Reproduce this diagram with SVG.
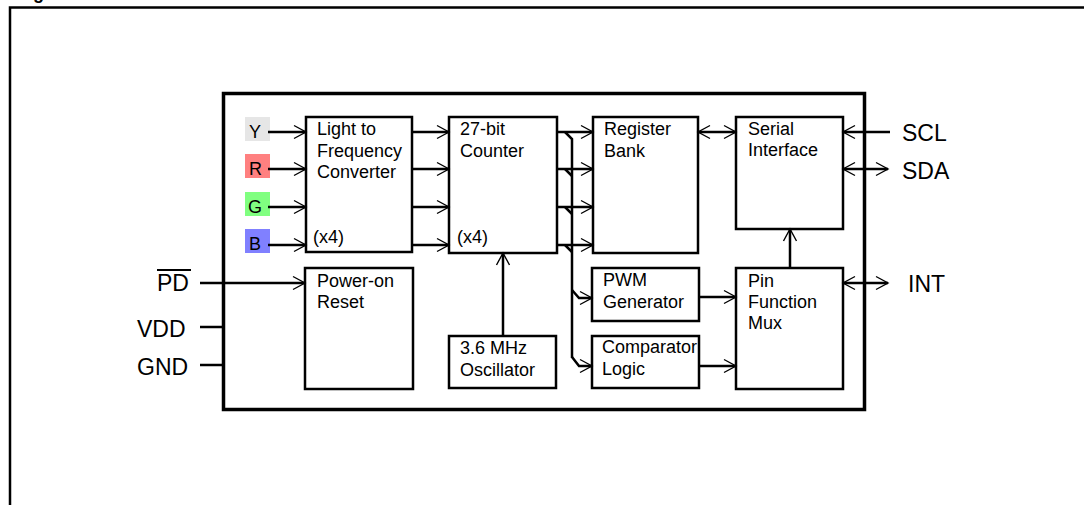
<svg xmlns="http://www.w3.org/2000/svg" width="1084" height="505" viewBox="0 0 1084 505">
<style>
text{font-family:"Liberation Sans",Arial,Helvetica,sans-serif;fill:#000}
.lbl{font-size:18px}
.pin{font-size:23px}
.ttl{font-size:18px;font-weight:bold}
.box{fill:#fff;stroke:#000;stroke-width:2.5}
.ln{fill:none;stroke:#000;stroke-width:2.5}
.ah{marker-end:url(#arr)}
.dh{marker-start:url(#arrs);marker-end:url(#arr)}
</style>
<defs>
<marker id="arr" markerUnits="userSpaceOnUse" markerWidth="16" markerHeight="18" viewBox="-14 -9 16 18" refX="0" refY="0" orient="auto">
<path d="M-12,-6.5 L0,0 L-12,6.5" fill="none" stroke="#000" stroke-width="1.4"/>
</marker>
<marker id="arrs" markerUnits="userSpaceOnUse" markerWidth="16" markerHeight="18" viewBox="-14 -9 16 18" refX="0" refY="0" orient="auto-start-reverse">
<path d="M-12,-6.5 L0,0 L-12,6.5" fill="none" stroke="#000" stroke-width="1.4"/>
</marker>
</defs>
<rect width="1084" height="505" fill="#fff"/>
<g id="title"><text class="ttl" x="17" y="-1">Figure 1.</text></g>
<path id="frame" d="M10,505 L10,7.5 L1084,7.5" fill="none" stroke="#000" stroke-width="2.5"/>
<rect id="chip" x="223.5" y="93.5" width="641" height="316" fill="none" stroke="#000" stroke-width="3.5"/>

<g id="inputs">
<rect x="245" y="117" width="25" height="24" fill="#e6e6e6"/><text class="lbl" x="249" y="138">Y</text>
<rect x="245" y="154" width="25" height="24" fill="#ff8080"/><text class="lbl" x="249" y="175">R</text>
<rect x="245" y="192" width="25" height="24" fill="#80ff80"/><text class="lbl" x="248" y="213">G</text>
<rect x="245" y="229" width="25" height="24" fill="#8080ff"/><text class="lbl" x="249" y="250">B</text>
</g>

<g id="ltf"><rect class="box" x="306" y="117" width="106" height="135"/>
<text class="lbl" x="317" y="135">Light to</text><text class="lbl" x="317" y="157">Frequency</text><text class="lbl" x="317" y="178">Converter</text><text class="lbl" x="313" y="243">(x4)</text></g>

<g id="counter"><rect class="box" x="449" y="117" width="108" height="136"/>
<text class="lbl" x="460" y="135">27-bit</text><text class="lbl" x="460" y="157">Counter</text><text class="lbl" x="457" y="243">(x4)</text></g>

<g id="regbank"><rect class="box" x="593" y="117" width="105" height="136"/>
<text class="lbl" x="604" y="135">Register</text><text class="lbl" x="604" y="157">Bank</text></g>

<g id="serial"><rect class="box" x="736" y="117" width="107" height="112"/>
<text class="lbl" x="748" y="135">Serial</text><text class="lbl" x="748" y="156">Interface</text></g>

<g id="por"><rect class="box" x="305" y="268" width="108" height="121"/>
<text class="lbl" x="317" y="287">Power-on</text><text class="lbl" x="317" y="308">Reset</text></g>

<g id="osc"><rect class="box" x="449" y="336" width="107" height="52"/>
<text class="lbl" x="460" y="354">3.6 MHz</text><text class="lbl" x="460" y="376">Oscillator</text></g>

<g id="pwm"><rect class="box" x="592" y="268" width="107" height="53"/>
<text class="lbl" x="603" y="286">PWM</text><text class="lbl" x="603" y="308">Generator</text></g>

<g id="comp"><rect class="box" x="592" y="336" width="107" height="52"/>
<text class="lbl" x="602" y="353">Comparator</text><text class="lbl" x="602" y="375">Logic</text></g>

<g id="mux"><rect class="box" x="736" y="268" width="107" height="121"/>
<text class="lbl" x="748" y="287">Pin</text><text class="lbl" x="748" y="308">Function</text><text class="lbl" x="748" y="329">Mux</text></g>

<g id="pins">
<text class="pin" x="157" y="291">PD</text>
<line x1="157" y1="270" x2="191" y2="270" stroke="#000" stroke-width="2"/>
<text class="pin" x="137" y="337">VDD</text>
<text class="pin" x="137" y="375">GND</text>
<text class="pin" x="902" y="141">SCL</text>
<text class="pin" x="902" y="179">SDA</text>
<text class="pin" x="908" y="292">INT</text>
</g>

<g id="connectors">
<line class="ln ah" x1="268" y1="132" x2="306" y2="132"/>
<line class="ln ah" x1="268" y1="169" x2="306" y2="169"/>
<line class="ln ah" x1="268" y1="207" x2="306" y2="207"/>
<line class="ln ah" x1="268" y1="245" x2="306" y2="245"/>
<line class="ln ah" x1="412" y1="132" x2="449" y2="132"/>
<line class="ln ah" x1="412" y1="169" x2="449" y2="169"/>
<line class="ln ah" x1="412" y1="207" x2="449" y2="207"/>
<line class="ln ah" x1="412" y1="245" x2="449" y2="245"/>
<line class="ln ah" x1="557" y1="132" x2="593" y2="132"/>
<line class="ln ah" x1="557" y1="169" x2="593" y2="169"/>
<line class="ln ah" x1="557" y1="207" x2="593" y2="207"/>
<line class="ln ah" x1="557" y1="245" x2="593" y2="245"/>
<path class="ln" d="M565,132 L572,139 L572,358"/>
<path class="ln" d="M565,169 L572,176 M565,207 L572,214 M565,245 L572,252" stroke-width="1.5"/>
<path class="ln ah" d="M572,357 L579,366 L592,366"/>
<path class="ln ah" d="M572,290 L579,298 L592,298"/>
<line class="ln ah" x1="503" y1="336" x2="503" y2="253"/>
<line class="ln dh" x1="698" y1="132" x2="736" y2="132"/>
<line class="ln ah" x1="699" y1="297" x2="736" y2="297"/>
<line class="ln ah" x1="699" y1="366" x2="736" y2="366"/>
<line class="ln ah" x1="790" y1="268" x2="790" y2="229"/>
<line class="ln ah" x1="890" y1="132" x2="843" y2="132"/>
<line class="ln dh" x1="843" y1="169" x2="888" y2="169"/>
<line class="ln dh" x1="843" y1="283" x2="888" y2="283"/>
<line class="ln ah" x1="200" y1="283" x2="305" y2="283"/>
<line class="ln" x1="200" y1="327" x2="223" y2="327"/>
<line class="ln" x1="200" y1="365" x2="223" y2="365"/>
</g>
</svg>
